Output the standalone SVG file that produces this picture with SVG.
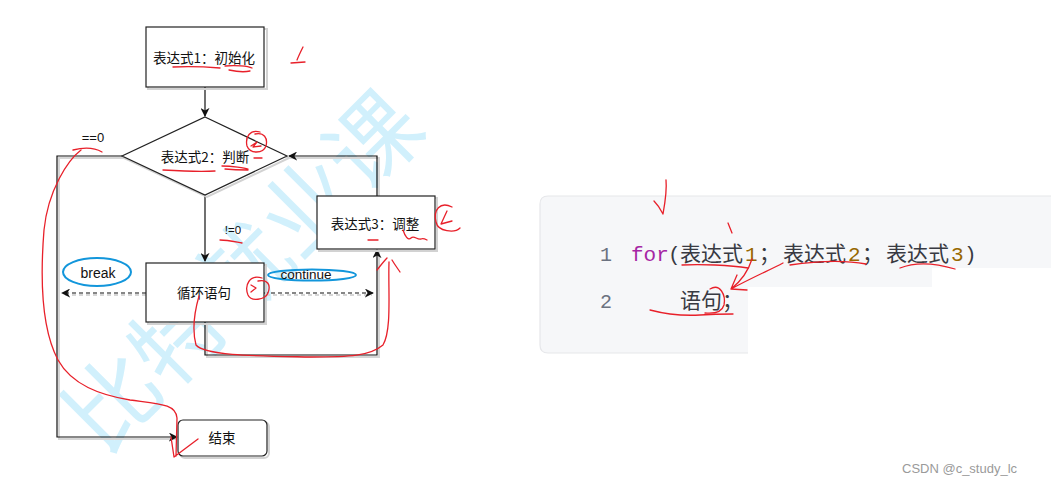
<svg xmlns="http://www.w3.org/2000/svg" width="1051" height="485" viewBox="0 0 1051 485">
<style>
.box{fill:#fff;stroke:#222;stroke-width:1.2}
.sh{fill:none;stroke:#d2d2d2;stroke-width:2}
.t{font-family:"Noto Sans CJK SC","Liberation Sans",sans-serif;font-size:13.5px;fill:#111;text-anchor:middle}
.lbl{font-family:"Liberation Sans","Noto Sans CJK SC",sans-serif;fill:#111;text-anchor:middle}
.c{fill:none;stroke:#111;stroke-width:1.2}
.cs{fill:none;stroke:#d6d6d6;stroke-width:2}
.d{stroke-dasharray:4 3}
.red{fill:none;stroke:#e8202a;stroke-width:1.3;stroke-linecap:round;stroke-linejoin:round}
.blue{fill:none;stroke:#1296db;stroke-width:2}
.code{font-family:"Liberation Mono","Noto Sans CJK SC",monospace;font-size:21px;fill:#383a42}
.ln{font-family:"Liberation Mono",monospace;font-size:20px;fill:#6b7280}
</style>
<defs>
<marker id="ah" viewBox="0 0 10 10" refX="9" refY="5" markerWidth="9" markerHeight="9" markerUnits="userSpaceOnUse" orient="auto">
<path d="M0,0 L10,5 L0,10 L3,5 Z" fill="#111"/>
</marker>
</defs>
<rect width="1051" height="485" fill="#fff"/>

<!-- watermark -->
<text x="244" y="304" transform="rotate(-45 244 272)" font-family="Noto Sans CJK SC,sans-serif" font-size="92" fill="#c9eefc" text-anchor="middle" opacity="0.85">比特就业课</text>

<!-- connectors -->
<g id="connectors">
<path class="cs" d="M124,158 H59 V439 H176"/>
<path class="cs" d="M207,324 V357 H379 V252"/>
<path class="cs" d="M379,198 V158 H290"/>
<path class="cs d" d="M146,295 H64"/>
<path class="cs d" d="M266,295 H372"/>
<path class="c" d="M205,87 V116" marker-end="url(#ah)"/>
<path class="c" d="M205,195 V261" marker-end="url(#ah)"/>
<path class="c" d="M122,156 H57 V437 H177" marker-end="url(#ah)"/>
<path class="c" d="M205,322 V355 H377 V250" marker-end="url(#ah)"/>
<path class="c" d="M377,196 V156 H289" marker-end="url(#ah)"/>
<path class="c d" d="M146,293 H62" marker-end="url(#ah)"/>
<path class="c d" d="M264,293 H373" marker-end="url(#ah)"/>
<text class="lbl" x="93" y="142" font-size="13">==0</text>
<text class="lbl" x="233" y="234" font-size="11.5">!=0</text>
<ellipse class="blue" cx="97" cy="272" rx="34" ry="14"/>
<text class="lbl" x="98" y="278" font-size="14">break</text>
<ellipse class="blue" cx="312" cy="275" rx="44" ry="5.5"/>
<text class="lbl" x="306" y="279" font-size="13.5">continue</text>
</g>

<g id="init">
<rect class="sh" x="148" y="29" width="119" height="60"/>
<rect class="box" x="146" y="27" width="118" height="60"/>
<text class="t" x="204" y="63">表达式1：初始化</text>
</g>

<g id="cond">
<path class="sh" d="M207,119 L289,158 L207,197 L124,158 Z"/>
<path class="box" d="M205,117 L287,156 L205,195 L122,156 Z"/>
<text class="t" x="205" y="162">表达式2：判断</text>
</g>

<g id="body">
<rect class="sh" x="148" y="265" width="118" height="59"/>
<rect class="box" x="146" y="263" width="118" height="59"/>
<text class="t" x="204" y="298">循环语句</text>
</g>

<g id="update">
<rect class="sh" x="319" y="198" width="118" height="53"/>
<rect class="box" x="317" y="196" width="118" height="53"/>
<text class="t" x="375" y="229">表达式3：调整</text>
</g>

<g id="end">
<rect class="sh" x="180" y="422" width="89" height="36" rx="5"/>
<rect class="box" x="178" y="420" width="89" height="36" rx="5"/>
<text class="t" x="222" y="443">结束</text>
</g>

<!-- code panel -->
<g id="code">
<path d="M548,196 H1051 V268 H932 V287 H748 V353 H548 Q540,353 540,345 V204 Q540,196 548,196 Z" fill="#f6f7f9"/>
<path d="M748,353 H548 Q540,353 540,345 V204 Q540,196 548,196 H1051" fill="none" stroke="#e6e7ea" stroke-width="1.2"/>
<text class="ln" x="600" y="261">1</text>
<text class="ln" x="600" y="308">2</text>
<text class="code" y="261"><tspan x="631" fill="#a626a4">for</tspan><tspan x="668">(</tspan><tspan x="680">表达式</tspan><tspan x="745" fill="#986801">1</tspan><tspan x="759">；</tspan><tspan x="783">表达式</tspan><tspan x="848" fill="#986801">2</tspan><tspan x="862">；</tspan><tspan x="886">表达式</tspan><tspan x="951" fill="#986801">3</tspan><tspan x="964">)</tspan></text>
<text class="code" y="308"><tspan x="680">语句；</tspan></text>
</g>

<!-- red annotations -->
<g id="annotations" class="red">
<path d="M173,67 C190,66 208,67 220,68"/>
<path d="M225,66 C235,65 248,66 252,68 M229,70 C238,72 246,72 250,71"/>
<path d="M303,47 C301,51 299,55 297,60 M291,63 L305,62"/>
<path d="M73,150 C85,147 95,148 102,152"/>
<path d="M81,150 C68,160 48,190 44,230 C40,280 42,330 58,360 C72,385 100,395 130,400 C160,404 176,404 177,418 L176,456 M171,437 L174,457 L198,439"/>
<path d="M260,132 C250,129 245,137 247,146 C250,154 263,154 266,146 C268,138 264,132 255,134"/>
<path d="M251,146 L257,142 L253,147 L261,146 M254,158 L262,158"/>
<path d="M163,170 C180,171 200,172 215,171"/>
<path d="M222,166 C232,166 245,168 248,169 M225,169 C235,170 245,170 248,170"/>
<path d="M220,240 C228,240 236,242 242,243"/>
<path d="M368,240 L378,240"/>
<path d="M403,230 C405,236 408,241 411,238 C414,235 417,240 421,239 C423,238 425,239 427,240"/>
<path d="M452,207 C440,201 433,210 436,222 C438,232 455,233 460,228 M447,211 L441,224 L452,221"/>
<path d="M262,278 C250,274 244,285 248,295 C251,302 265,300 268,293 C271,285 268,279 258,281 M251,285 L256,288 L251,292"/>
<path d="M199,296 C195,310 192,330 196,345 C205,356 260,356 310,357 C350,357 370,356 383,345 C392,330 388,290 389,262 M377,270 C381,265 384,261 387,258 M392,260 C395,265 398,269 400,272"/>
<path d="M666,180 C667,190 665,203 663,214 M654,201 C658,205 661,210 663,214"/>
<path d="M728,223 L732,233"/>
<path d="M682,265 C700,264 730,265 748,268"/>
<path d="M790,265 C810,262 840,259 866,264"/>
<path d="M900,268 C915,262 935,263 955,269"/>
<path d="M752,259 C748,272 740,282 731,289 M783,263 C770,270 755,276 731,289 M737,275 L731,289 L747,290"/>
<path d="M710,289 C720,283 726,295 724,305 C722,312 716,314 705,313"/>
<path d="M650,310 C665,314 680,316 700,315 C715,314 725,314 733,314"/>
</g>

<text x="902" y="473" font-family="Liberation Sans,Arial,sans-serif" font-size="13" fill="#9a9a9a">CSDN @c_study_lc</text>
</svg>
